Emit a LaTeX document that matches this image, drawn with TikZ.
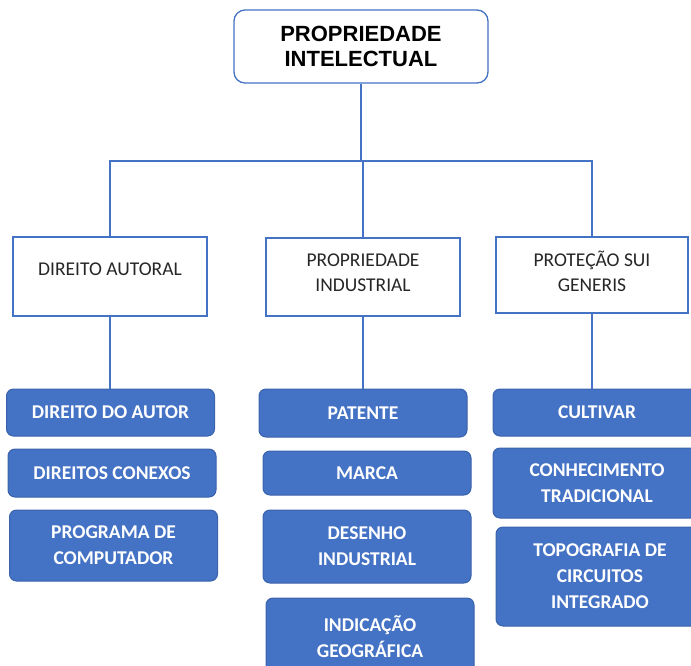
\documentclass[tikz,border=0pt]{standalone}
\usepackage{fontspec}
\setmainfont{Carlito}
\newfontfamily\arialfont{Liberation Sans}
\usetikzlibrary{positioning}
\definecolor{wordblue}{HTML}{4472C4}
\definecolor{wordedge}{HTML}{3B63AC}

\begin{document}
\begin{tikzpicture}[x=1pt,y=-1pt,
		topbox/.style={draw=wordblue,line width=1.3pt,rounded corners=11pt,minimum width=254pt,minimum height=73pt,align=center,font=\arialfont\bfseries\fontsize{22}{25.7}\selectfont},
		midbox/.style={draw=wordblue,line width=1.3pt,minimum width=194pt,minimum height=78pt},
		midtxt/.style={align=center,text=black!85,font=\fontsize{19.5}{25.5}\selectfont},
		leafbox/.style={draw=wordedge,line width=1pt,fill=wordblue,rounded corners=7pt,minimum width=208pt,align=center,text=white,font=\bfseries\fontsize{19.5}{26}\selectfont},
		conn/.style={draw=wordblue,line width=1.2pt}]
		\useasboundingbox (0,0) rectangle (691,665);
		\clip (0,0) rectangle (691,665);
		% top
		\node[topbox] (top) at (361,46.5) {PROPRIEDADE\\INTELECTUAL};
		\coordinate (bus) at (361,161);
		% second row
		\node[midbox,minimum height=79pt,label={[midtxt,yshift=7.5pt]center:DIREITO AUTORAL}] (da) at (110,276.5) {};
		\node[midbox,label={[midtxt,yshift=4.5pt]center:{PROPRIEDADE\\INDUSTRIAL}}] (pi) at (363,277) {};
		\node[midbox,minimum width=192pt,minimum height=76pt,label={[midtxt,yshift=3.5pt]center:{PROTEÇÃO SUI\\GENERIS}}] (ps) at (592,275) {};
		% leaves
		\node[leafbox,minimum height=47pt] (dautor) at (110.5,412.5) {DIREITO DO AUTOR};
		\node[leafbox,minimum height=48pt] (dconex) at (112,473) {DIREITOS CONEXOS};
		\node[leafbox,minimum height=71pt] (progcomp) at (113.5,545.5) {PROGRAMA DE\\COMPUTADOR};
		\node[leafbox,minimum height=48pt] (patente) at (363,413) {PATENTE};
		\node[leafbox,minimum height=44pt] (marca) at (367,473) {MARCA};
		\node[leafbox,minimum height=73pt] (desenho) at (367,546.5) {DESENHO\\INDUSTRIAL};
		\node[leafbox,minimum height=78pt] (indgeo) at (370,637) {INDICAÇÃO\\GEOGRÁFICA};
		\node[leafbox,minimum height=47pt] (cultivar) at (597,412.5) {CULTIVAR};
		\node[leafbox,minimum height=70pt] (conhec) at (597,483) {CONHECIMENTO\\TRADICIONAL};
		\node[leafbox,minimum height=99pt] (topog) at (600,576.5) {TOPOGRAFIA DE\\CIRCUITOS\\INTEGRADO};
		% connectors
		\draw[conn] (top.south) -- (bus);
		\draw[conn] (bus) -| (da.north);
		\draw[conn] (bus) -| (pi.north);
		\draw[conn] (bus) -| (ps.north);
		\draw[conn] (da.south) -- (da.south |- dautor.north);
		\draw[conn] (pi.south) -- (pi.south |- patente.north);
		\draw[conn] (ps.south) -- (ps.south |- cultivar.north);
	\end{tikzpicture}
\end{document}
